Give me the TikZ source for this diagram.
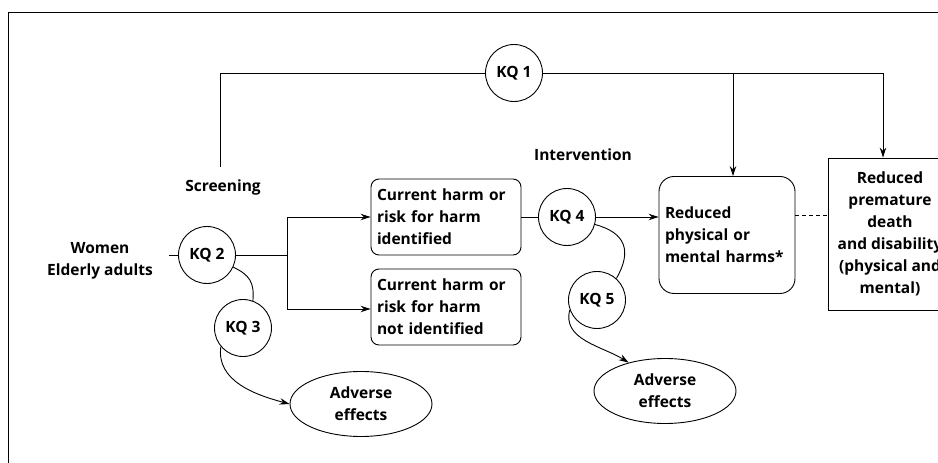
\documentclass[tikz,border=0pt]{standalone}
\usepackage{fontspec}
\setmainfont{Open Sans}
\usetikzlibrary{arrows.meta,shapes.geometric}

\begin{document}
\begin{tikzpicture}[x=1pt, y=1pt, line width=0.9pt,
    every node/.style={font=\bfseries\fontsize{15.5}{22}\selectfont},
    kq/.style={circle, draw, minimum size=57pt, inner sep=0pt},
    harmbox/.style={draw, rounded corners=8pt, text width=138pt, inner xsep=6pt, minimum height=76pt, align=left},
    adverse/.style={ellipse, draw, minimum width=142pt, minimum height=65pt, inner sep=0pt, align=center},
    arr/.style={-{Stealth[length=10pt, width=6.5pt]}}]
    \useasboundingbox (0,0) rectangle (938,463);
    \clip (0,0) rectangle (938,463);
    \draw (8,451) rectangle (960,-20);
    % nodes
    \node[kq] (kq1) at (514,390) {KQ 1};
    \node[kq] (kq2) at (207,208) {KQ 2};
    \node[kq] (kq3) at (243,135) {KQ 3};
    \node[kq] (kq4) at (567,246) {KQ 4};
    \node[kq] (kq5) at (597,163) {KQ 5};
    \node[align=center] (pop) at (100,202) {Women\\Elderly adults};
    \node (screen) at (223,276) {Screening};
    \node (interv) at (583,308) {Intervention};
    \node[harmbox] (found) at (446,246) {Current harm or\\risk for harm\\identified};
    \node[harmbox] (notfound) at (446,156) {Current harm or\\risk for harm\\not identified};
    \node[draw, rounded corners=15pt, text width=124pt, inner xsep=6pt, minimum height=117pt, align=left] (reduced) at (727,228) {Reduced\\physical or\\mental harms*};
    \node[draw, minimum width=124pt, minimum height=152pt, inner xsep=4pt, align=center] (outcome) at (890,229) {Reduced\\premature\\death\\and disability\\(physical and\\mental)};
    \node[adverse] (adv1) at (361,59) {Adverse\\effects};
    \node[adverse] (adv2) at (665,72) {Adverse\\effects};
    % overarching path
    \coordinate (scrtop) at (220,296);
    \coordinate (br1) at (733,390);
    \draw (scrtop) |- (kq1);
    \draw[arr] (kq1) -| ([xshift=-7pt]outcome.north);
    \draw[arr] (br1) -- (br1 |- reduced.north);
    % screening
    \draw (kq2.west) -- ++(-9,0);
    \draw (kq2) -- (287,208) coordinate (split);
    \draw[arr] (split) |- (found.west);
    \draw[arr] (split) |- ([yshift=-2pt]notfound.west);
    \draw (kq2.-25) to[out=-25, in=85, looseness=1.2] (kq3.70);
    \draw[arr] (kq3.220) to[out=-98, in=165] (adv1.west);
    % intervention
    \draw (found) -- (kq4);
    \draw[arr] (kq4) -- (reduced.west |- kq4);
    \draw (kq4.-15) to[out=-15, in=60, looseness=1.4] (kq5.48);
    \draw[arr] (kq5.200) to[out=-105, in=148] (adv2.142);
    \draw[dash pattern=on 4pt off 3pt] (reduced.east |- 0,248) -- (outcome.west |- 0,248);
\end{tikzpicture}
\end{document}
